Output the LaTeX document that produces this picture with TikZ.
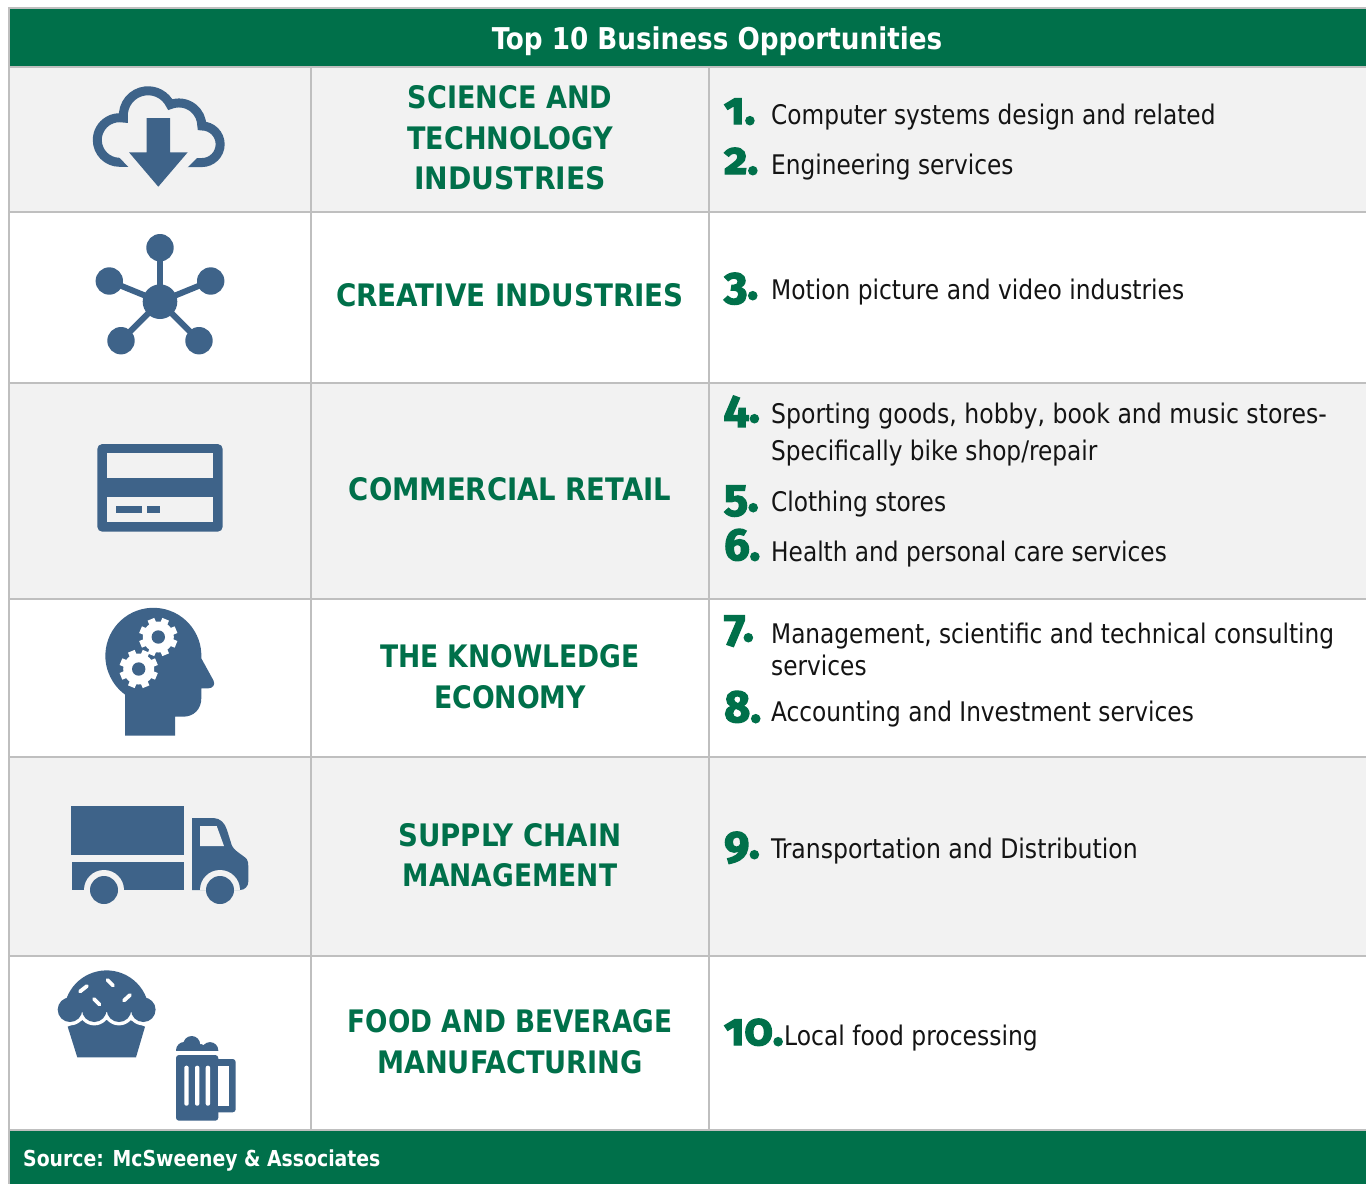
\documentclass[tikz,border=0pt]{standalone}
\usepackage{fontspec}
\setmainfont{DejaVu Sans Condensed}
\newfontfamily\itemfont[FakeStretch=0.957]{DejaVu Sans Condensed}
\newfontfamily\titlefont[FakeStretch=0.972]{DejaVu Sans Condensed}
\newfontfamily\sourcefont[FakeStretch=0.952]{DejaVu Sans Condensed}
\newfontfamily\numfont[Numbers=OldStyle,BoldFeatures={FakeBold=3}]{Fira Sans}
\definecolor{tgreen}{HTML}{00704A}
\definecolor{ticon}{HTML}{3E6389}
\definecolor{tgrid}{HTML}{BFBFBF}
\definecolor{tband}{HTML}{F2F2F2}
\tikzset{
 cat/.style={font=\fontsize{31}{31}\selectfont\bfseries,text=tgreen,inner sep=0pt,anchor=base},
 item/.style={font=\fontsize{27}{27}\itemfont,text=black!92,inner sep=0pt,anchor=base west},
 num/.style={font=\fontsize{45}{45}\numfont\bfseries,text=tgreen,inner sep=0pt,anchor=base west},
 grid/.style={draw=tgrid,line width=2pt},
 ic/.style={fill=ticon,draw=none},
}
\newcommand{\fitx}[2]{\scalebox{#1}[1]{#2}}
\newcommand{\gearat}[2]{%
 \begin{scope}[shift={(#1,#2)}]
 \foreach \a in {0,45,...,315}{\fill[white,rotate=\a+22.5] (-3.6,-19.2) rectangle (3.6,0);}
 \fill[white] (0,0) circle[radius=15.5];
 \fill[ticon] (0,0) circle[radius=6.7];
 \end{scope}}
\begin{document}
\begin{tikzpicture}[x=1pt,y=-1pt]
\useasboundingbox (0,0) rectangle (1366,1184);
\fill[white] (0,0) rectangle (1366,1184);
% bands
\fill[tband] (9,67) rectangle (1366,212);
\fill[tband] (9,383) rectangle (1366,599);
\fill[tband] (9,757) rectangle (1366,956);
% grid
\foreach \yy in {8,67,212,383,599,757,956,1130}{\draw[grid] (8,\yy) -- (1366,\yy);}
\draw[grid] (9,8) -- (9,1184);
\draw[grid] (311,67) -- (311,1130);
\draw[grid] (709,67) -- (709,1130);
% header/footer
\fill[tgreen] (10,9) rectangle (1366,66);
\fill[tgreen] (10,1131) rectangle (1366,1184);
\node[inner sep=0pt,anchor=base,text=white,font=\fontsize{30}{30}\titlefont\bfseries] (title) at (717,49) {Top 10 Business Opportunities};
\node[inner sep=0pt,anchor=base west,text=white,font=\fontsize{22}{22}\sourcefont\bfseries] (source) at (23,1166) {Source: McSweeney \& Associates};
% categories
\node[cat] (c1a) at (510,108) {\fitx{.97}{SCIENCE AND}};
\node[cat] (c1b) at (510,149) {\fitx{.97}{TECHNOLOGY}};
\node[cat] (c1c) at (510,189) {\fitx{1.01}{INDUSTRIES}};
\node[cat] (c2) at (510,306) {\fitx{.995}{CREATIVE INDUSTRIES}};
\node[cat] (c3) at (510,500) {\fitx{.985}{COMMERCIAL RETAIL}};
\node[cat] (c4a) at (510,667) {\fitx{.952}{THE KNOWLEDGE}};
\node[cat] (c4b) at (510,708) {\fitx{.96}{ECONOMY}};
\node[cat] (c5a) at (510,846) {\fitx{.99}{SUPPLY CHAIN}};
\node[cat] (c5b) at (510,886) {\fitx{.95}{MANAGEMENT}};
\node[cat] (c6a) at (510,1032) {\fitx{.945}{FOOD AND BEVERAGE}};
\node[cat] (c6b) at (510,1073) {\fitx{.975}{MANUFACTURING}};
% items
\node[item] (i1) at (771,124) {Computer systems design and related};
\node[item] (i2) at (771,174) {Engineering services};
\node[item] (i3) at (771,299) {\fitx{1.005}{Motion picture and video industries}};
\node[item] (i4a) at (771,423) {\fitx{1.014}{Sporting goods, hobby, book and music stores-}};
\node[item] (i4b) at (771,460) {Specifically bike shop/repair};
\node[item] (i5) at (771,511) {Clothing stores};
\node[item] (i6) at (771,561) {Health and personal care services};
\node[item] (i7a) at (771,643) {Management, scientific and technical consulting};
\node[item] (i7b) at (771,675) {services};
\node[item] (i8) at (771,721) {Accounting and Investment services};
\node[item] (i9) at (771,858) {\fitx{1.014}{Transportation and Distribution}};
\node[item] (i10) at (784,1045) {\fitx{1.008}{Local food processing}};
% numbers
\node[num] (n1) at (724,124) {1.};
\node[num] (n2) at (724,174) {2.};
\node[num] (n3) at (724,299) {3.};
\node[num] (n4) at (724,422) {4.};
\node[num] (n5) at (724,511) {5.};
\node[num] (n6) at (724,560) {6.};
\node[num] (n7) at (724,641) {7.};
\node[num] (n8) at (724,722) {8.};
\node[num] (n9) at (724,858) {9.};
\node[num] (n10) at (724,1045) {10.};
% cloud
\draw[ticon,line width=9pt,miter limit=10] (132,162.3) -- (119.6,162.3)
 arc[start angle=90,end angle=280,radius=22.3]
 arc[start angle=174,end angle=334,radius=24.7]
 arc[start angle=248,end angle=360,radius=23]
 arc[start angle=270,end angle=450,radius=18.3] -- (184,162.6);
\fill[tband] (117.7,155.7) -- (130,168.5) -- (186.5,168.5) -- (199,155.7) -- cycle;
\fill[ic] (146.7,118) -- (170,118) -- (170,152.3) -- (187.7,152.3) -- (158.3,186.7) -- (129,152.3) -- (146.7,152.3) -- cycle;
% network
\coordinate (hub) at (160,301.7);
\foreach \px/\py in {160/247.7,109.3/281,210.7/281,121/340.7,199/340.7}{
 \draw[ticon,line width=6pt] (hub) -- (\px,\py);
 \fill[ic] (\px,\py) circle[radius=13.7];}
\fill[ic] (hub) circle[radius=17.3];
% card
\fill[ic,rounded corners=5pt] (97.3,444) rectangle (222.7,531.7);
\fill[tband] (106.7,453.3) rectangle (213.3,478.3);
\fill[tband] (106.7,497.3) rectangle (213.3,522);
\fill[ic] (116,506) rectangle (142,513);
\fill[ic] (147,506) rectangle (160,513);
% head
\fill[ic] (125,735.7) -- (175,735.7) -- (175,716.7) -- (183,716.7)
 .. controls (194,716.7) and (201.3,709) .. (201.3,698.3) -- (201.3,688.3) -- (208.3,688.3)
 .. controls (213,688.3) and (215.5,684.5) .. (213.5,680.5) -- (201.3,658.3)
 arc[start angle=3,end angle=-234,radius=48] -- cycle;
\gearat{158.3}{637}
\gearat{138.7}{669}
% truck
\fill[ic] (71,806) rectangle (184,854.7);
\fill[ic] (72,862) rectangle (184,890);
\fill[ic] (192,818) -- (213.3,818) .. controls (220,818) and (225,823) .. (227,830) -- (231.7,845)
 .. controls (234,851) and (243,855) .. (246.7,859) .. controls (248,861) and (248.3,863) .. (248.3,866)
 -- (248.3,881.7) .. controls (248.3,886) and (245,890) .. (240,890) -- (192,890) -- cycle;
\fill[tband] (200,826) -- (216.7,826) -- (224,846) -- (200,846) -- cycle;
\fill[tband] (84,890) arc[start angle=180,end angle=360,radius=20] -- cycle;
\fill[tband] (200,890) arc[start angle=180,end angle=360,radius=20] -- cycle;
\fill[ic] (104,890) circle[radius=14];
\fill[ic] (220,890) circle[radius=14];
% muffin
\fill[ic] (67.7,1026.7) -- (83,1020) -- (130,1020) -- (145,1026.7) -- (136,1057.3) -- (77.3,1057.3) -- cycle;
\foreach \mx in {70,94.3,119,143.3}{\fill[white] (\mx,1009.7) circle[radius=15.7];}
\fill[ic] (66.7,1012) -- (66.7,998) arc[start angle=200.6,end angle=339.4,radius=42.6] -- (146.7,1012) -- cycle;
\foreach \mx in {70,94.3,119,143.3}{\fill[ic] (\mx,1009.7) circle[radius=12.3];}
\foreach \ax/\ay/\bx/\by in {80/991.5/87/986,107.5/980/113/985.5,94/999/99.5/1004.5,124/1000.5/130/995}{
 \draw[white,line width=3.8pt,line cap=round] (\ax,\ay) -- (\bx,\by);}
% mug
\begin{scope}
 \clip (170,1030) rectangle (224,1050.4);
 \fill[ic] (191.7,1044.5) circle[radius=8.5];
 \fill[ic] (184.5,1050.4) circle[radius=8.5];
 \fill[ic] (201,1049) circle[radius=5];
 \fill[ic] (210,1050.4) circle[radius=8.3];
\end{scope}
\fill[ic,rounded corners=3pt] (176,1055) -- (218.3,1055) -- (218.3,1120.7) -- (176,1120.7) -- cycle;
\fill[ic,rounded corners=3pt] (210,1059) -- (235.7,1059) -- (235.7,1112.3) -- (210,1112.3) -- cycle;
\fill[white] (218.3,1065.7) rectangle (229.3,1105.7);
\foreach \sx in {186.5,197.2,207.9}{\fill[white,rounded corners=2pt] (\sx-2.2,1065.7) rectangle (\sx+2.2,1105.7);}
\end{tikzpicture}
\end{document}
